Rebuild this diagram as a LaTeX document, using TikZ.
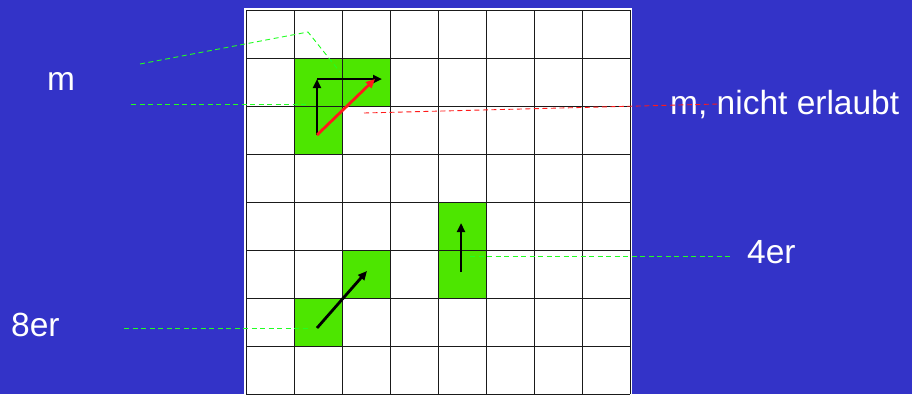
\documentclass[tikz,border=0pt]{standalone}
\usepackage{fontspec}
\setmainfont{Liberation Sans}
\usetikzlibrary{arrows.meta}
\definecolor{bgblue}{HTML}{3333C8}
\definecolor{cellgreen}{HTML}{4DE600}
\definecolor{leadgreen}{HTML}{22FF22}
\definecolor{leadred}{HTML}{FF1A1A}
\definecolor{gridink}{HTML}{1A1A1A}
\newcommand{\cellsz}{48}

\begin{document}
\begin{tikzpicture}[
  x=1pt, y=-1pt,
  >={Triangle[length=9pt,width=8pt]},
  lbl/.style={anchor=base west, inner sep=0pt, text=white, font=\fontsize{33.5}{38}\selectfont},
  cell/.style={fill=cellgreen},
  mv/.style={->, draw=black, line width=2.8pt},
  mvbad/.style={->, draw=leadred, line width=2.8pt},
  lead/.style={draw=leadgreen, line width=0.9pt, dash pattern=on 5pt off 3.5pt},
  leadbad/.style={draw=leadred, line width=0.9pt, dash pattern=on 5pt off 3.5pt},
]

% ---- background ----
\fill[bgblue] (0,0) rectangle (912,394);
\fill[white] (244,8) rectangle (632,394);

% ---- green cells ----
\foreach \c/\r in {1/1, 2/1, 1/2, 2/5, 1/6, 4/4, 4/5}
  \fill[cell] (246+\cellsz*\c,10+\cellsz*\r) rectangle ++(\cellsz,\cellsz);

% ---- grid ----
\foreach \i in {0,...,8} {
  \draw[gridink, line width=1pt] (246+\cellsz*\i,10) -- (246+\cellsz*\i,394);
  \draw[gridink, line width=1pt] (246,10+\cellsz*\i) -- (630,10+\cellsz*\i);
}

% ---- labels ----
\node[lbl] (m)    at (47,90)   {m};
\node[lbl] (mbad) at (670,114) {m, nicht erlaubt};
\node[lbl] (vier) at (747,263) {4er};
\node[lbl] (acht) at (11,336)  {8er};

% ---- move arrows ----
\coordinate (p0) at (317,135);
\coordinate (p1) at (317,79);
\coordinate (p2) at (382,79);
\coordinate (p3) at (375,79);
\draw[mv] (p0) -- (p1);
\draw[mv] (p1) -- (p2);
\draw[mvbad] (p0) -- (p3);

\coordinate (q0) at (461,272);
\coordinate (q1) at (461,223);
\draw[mv] (q0) -- (q1);

\coordinate (r0) at (317,328);
\coordinate (r1) at (367,271);
\draw[mv] (r0) -- (r1);

% ---- leader lines ----
\coordinate (ma) at (140,64);
\coordinate (mk) at (308,32);
\coordinate (mb) at (340,72);
\coordinate (mc) at (131,104);
\coordinate (md) at (309,104);
\draw[lead] (ma) -- (mk) -- (mb);
\draw[lead] (mc) -- (md);

\coordinate (ba) at (364,113);
\coordinate (bb) at (718,104);
\draw[leadbad] (ba) -- (bb);

\coordinate (va) at (470,256);
\coordinate (vb) at (733,256);
\draw[lead] (va) -- (vb);

\coordinate (aa) at (124,328);
\coordinate (ab) at (308,328);
\draw[lead] (aa) -- (ab);

\end{tikzpicture}
\end{document}
